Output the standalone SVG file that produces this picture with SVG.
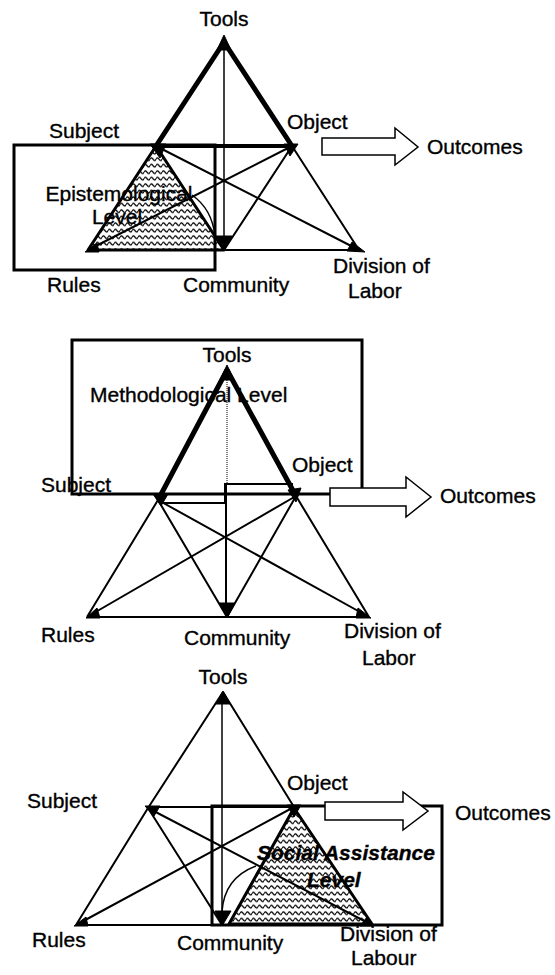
<svg xmlns="http://www.w3.org/2000/svg" width="555" height="975" viewBox="0 0 555 975">
<style>
text{font-family:"Liberation Sans",Arial,sans-serif;font-size:21px;fill:#000;stroke:#000;stroke-width:0.35}
.bi{font-weight:bold;font-style:italic}
.mid{text-anchor:middle}
.thin{stroke:#000;stroke-width:2;fill:none}
.hair{stroke:#000;stroke-width:1.5;fill:none}
.thick{stroke:#000;stroke-width:5;fill:none;stroke-linejoin:round}
.med{stroke:#000;stroke-width:4;fill:none}
.box{stroke:#000;stroke-width:3;fill:none}
.mk{fill:#000;stroke:#000;stroke-width:1}
.arrow{fill:#fff;stroke:#000;stroke-width:1.5}
.shade{fill:url(#wave);stroke:#000;stroke-width:3;stroke-linejoin:round}
</style>
<defs>
<pattern id="wave" width="6" height="6.5" patternUnits="userSpaceOnUse">
<rect width="6" height="6.5" fill="#fff"/>
<path d="M0,3.2 Q1.5,0.6 3,3.2 T6,3.2" fill="none" stroke="#000" stroke-width="1.3"/>
</pattern>
</defs>
<rect width="555" height="975" fill="#fff"/>

<!-- ===== Diagram 1: Epistemological Level ===== -->
<g id="d1-connectors">
<polygon class="shade" points="156,146 88,250 224,250"/>
<path class="thick" d="M224,42 L156,146 M224,42 L292,146"/>
<path class="med" d="M156,146 H292"/>
<path class="thin" d="M292,146 L359,250 M224,250 H359 M156,146 L359,250 M292,146 L88,250 M292,146 L224,250"/>
<path class="hair" d="M224,48 V240"/>
<path class="hair" d="M192,195 Q212,209 215,236"/>
</g>
<g id="d1-level"><rect class="box" x="14" y="145" width="201" height="125"/>
<text class="mid" x="119" y="201">Epistemological</text><text class="mid" x="117" y="224">Level</text></g>
<g id="d1-tools"><polygon class="mk" points="224,35 217,50 231,50"/><text class="mid" x="224" y="26">Tools</text></g>
<g id="d1-subject"><polygon class="mk" points="150,144 166,144 160,158"/><text x="49" y="138">Subject</text></g>
<g id="d1-object"><polygon class="mk" points="284,144 298,144 290,156"/><text x="287" y="129">Object</text></g>
<g id="d1-rules"><polygon class="mk" points="85,252 99,252 97,243"/><text x="47" y="292">Rules</text></g>
<g id="d1-community"><polygon class="mk" points="216,236 232,236 224,251"/><text x="183" y="292">Community</text></g>
<g id="d1-division"><polygon class="mk" points="347,251 365,252 352,242"/><text x="333" y="273">Division of</text><text x="348" y="298">Labor</text></g>
<g id="d1-outcomes"><polygon class="arrow" points="322,138 395,138 395,128 418,147 395,165 395,155 322,155"/><text x="427" y="154">Outcomes</text></g>

<!-- ===== Diagram 2: Methodological Level ===== -->
<g id="d2-connectors">
<path class="thick" d="M227,370 L158,500 M227,370 L296,496"/>
<path class="thin" d="M158,500 L87,617 M296,496 L369,617 M87,617 H369 M158,500 L227,617 M158,500 L369,617 M296,496 L87,617 M296,496 L227,617"/>
<path d="M227,380 V483" stroke="#000" stroke-width="1" stroke-dasharray="1,1"/>
<path class="thin" d="M226,483 V605"/>
<path class="thin" d="M160,503 H225 V484 H293"/>
</g>
<g id="d2-level"><rect class="box" x="72" y="340" width="290" height="154" stroke-width="3.5"/>
<text x="90" y="402">Methodological Level</text></g>
<g id="d2-tools"><polygon class="mk" points="227,365 220,380 234,380"/><text class="mid" x="227" y="362">Tools</text></g>
<g id="d2-subject"><polygon class="mk" points="153,494 168,494 161,506"/><text x="41" y="492">Subject</text></g>
<g id="d2-object"><polygon class="mk" points="288,490 301,488 296,502"/><text x="292" y="472">Object</text></g>
<g id="d2-rules"><polygon class="mk" points="86,618 100,618 97,608"/><text x="41" y="642">Rules</text></g>
<g id="d2-community"><polygon class="mk" points="219,603 235,603 227,618"/><text x="184" y="645">Community</text></g>
<g id="d2-division"><polygon class="mk" points="356,618 371,618 358,608"/><text x="344" y="638">Division of</text><text x="362" y="665">Labor</text></g>
<g id="d2-outcomes"><polygon class="arrow" points="330,488 406,488 406,477 431,497 406,517 406,506 330,506"/><text x="440" y="503">Outcomes</text></g>

<!-- ===== Diagram 3: Social Assistance Level ===== -->
<g id="d3-connectors">
<polygon class="shade" points="294,808 229,924 372,924" stroke-width="4"/>
<path class="thin" d="M223,692 L148,808 M223,692 L294,807 M148,808 L76,925 M148,807 H294 M76,925 H229 M148,808 L222,925 M148,808 L372,925 M294,807 L76,925"/>
<path class="hair" d="M222,700 V912"/>
<path class="hair" d="M256,866 Q224,878 222,912"/>
</g>
<g id="d3-level"><rect class="box" x="212" y="806" width="230" height="119" stroke-width="3.5"/>
<text class="bi" x="257" y="860">Social Assistance</text><text class="bi" x="307" y="887">Level</text></g>
<g id="d3-tools"><polygon class="mk" points="223,691 216,704 230,704"/><text class="mid" x="223" y="684">Tools</text></g>
<g id="d3-subject"><polygon class="mk" points="145,806 160,806 154,816"/><text x="27" y="808">Subject</text></g>
<g id="d3-object"><polygon class="mk" points="287,805 301,805 294,817"/><text x="287" y="790">Object</text></g>
<g id="d3-rules"><polygon class="mk" points="74,926 88,926 86,917"/><text x="32" y="947">Rules</text></g>
<g id="d3-community"><polygon class="mk" points="215,911 231,911 222,926"/><text x="177" y="950">Community</text></g>
<g id="d3-division"><polygon class="mk" points="360,926 374,926 367,917"/><text x="340" y="941">Division of</text><text x="351" y="965">Labour</text></g>
<g id="d3-outcomes"><polygon class="arrow" points="325,802 403,802 403,792 428,811 403,830 403,820 325,820"/><text x="455" y="820">Outcomes</text></g>
</svg>
